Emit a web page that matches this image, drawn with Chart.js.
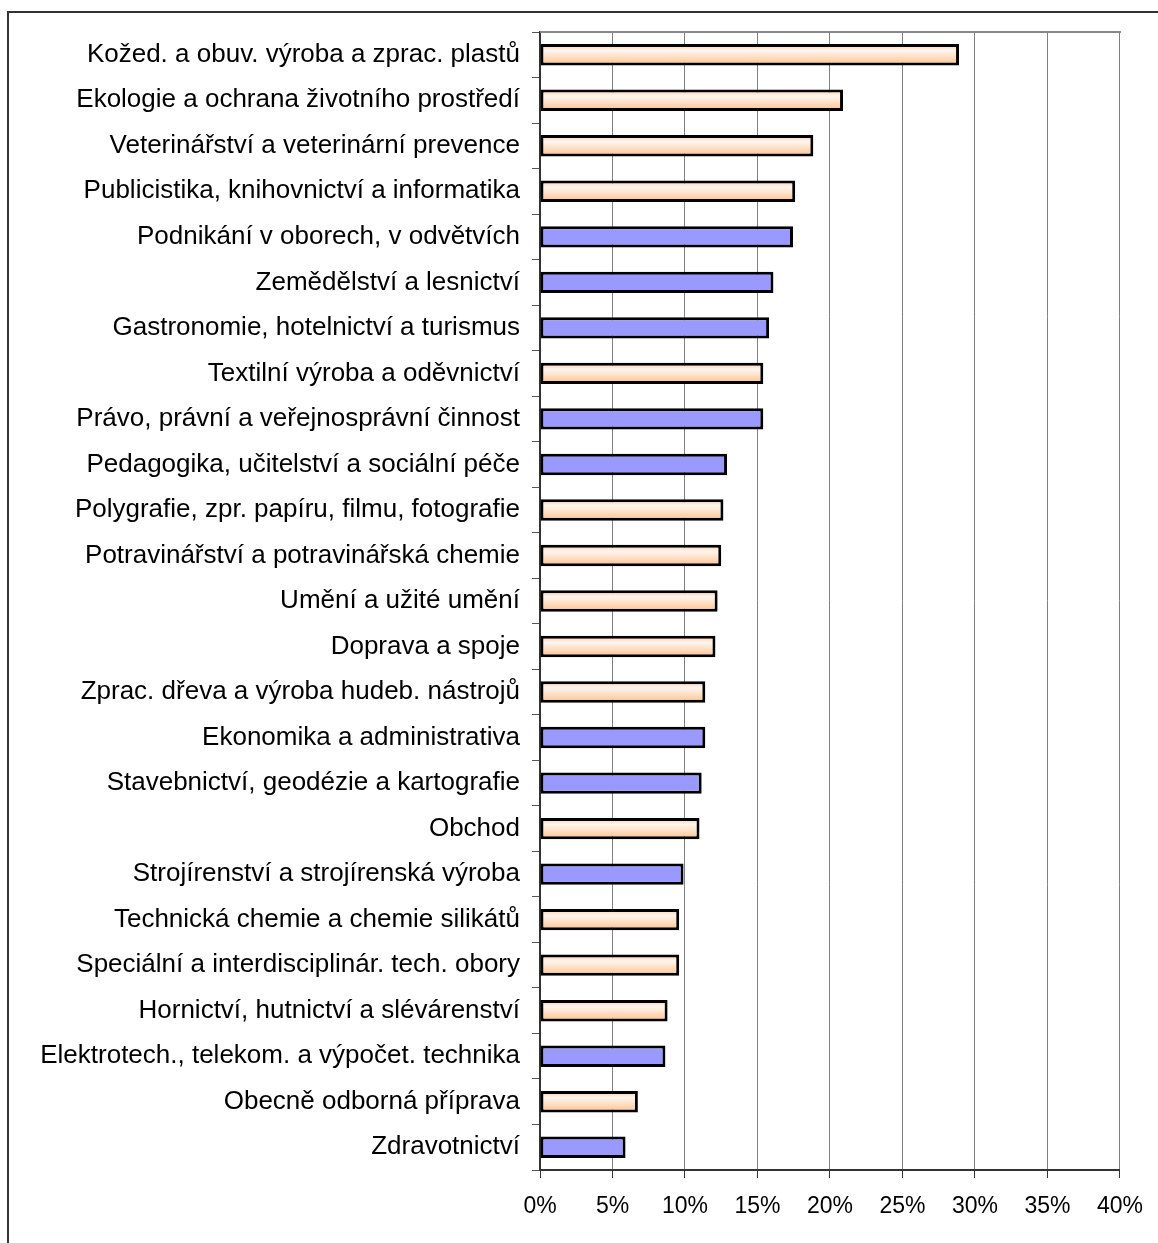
<!DOCTYPE html>
<html>
<head>
<meta charset="utf-8">
<script src="https://cdn.jsdelivr.net/npm/chart.js@4/dist/chart.umd.min.js"></script>
<style>
    body { margin: 0; background: #fff; overflow: hidden; }
    #ramecek { position: absolute; left: 7px; top: 11px; width: 1300px; height: 1400px;
               border-left: 2px solid #333; border-top: 2px solid #333; }
    #graf { position: absolute; left: 0; top: 0; }
</style>
</head>
<body>
<div id="ramecek"></div>
<canvas id="graf" width="1158" height="1243"></canvas>
<script>
// obory vzdělání (shora dolů)
const kategorie = [
    'Kožed. a obuv. výroba a zprac. plastů',
    'Ekologie a ochrana životního prostředí',
    'Veterinářství a veterinární prevence',
    'Publicistika, knihovnictví a informatika',
    'Podnikání v oborech, v odvětvích',
    'Zemědělství a lesnictví',
    'Gastronomie, hotelnictví a turismus',
    'Textilní výroba a oděvnictví',
    'Právo, právní a veřejnosprávní činnost',
    'Pedagogika, učitelství a sociální péče',
    'Polygrafie, zpr. papíru, filmu, fotografie',
    'Potravinářství a potravinářská chemie',
    'Umění a užité umění',
    'Doprava a spoje',
    'Zprac. dřeva a výroba hudeb. nástrojů',
    'Ekonomika a administrativa',
    'Stavebnictví, geodézie a kartografie',
    'Obchod',
    'Strojírenství a strojírenská výroba',
    'Technická chemie a chemie silikátů',
    'Speciální a interdisciplinár. tech. obory',
    'Hornictví, hutnictví a slévárenství',
    'Elektrotech., telekom. a výpočet. technika',
    'Obecně odborná příprava',
    'Zdravotnictví'
];

// hodnoty v %
const hodnoty = [28.9, 20.9, 18.85, 17.6, 17.45, 16.1, 15.8, 15.4, 15.4, 12.9,
                 12.65, 12.5, 12.25, 12.1, 11.4, 11.4, 11.15, 11.0, 9.9, 9.6,
                 9.6, 8.8, 8.65, 6.75, 5.9];

// skupina oboru: 'o' = oranžový (přechod), 'm' = modrý
const skupina = ['o', 'o', 'o', 'o', 'm', 'm', 'm', 'o', 'm', 'm',
                 'o', 'o', 'o', 'o', 'o', 'm', 'm', 'o', 'm', 'o',
                 'o', 'o', 'm', 'o', 'm'];

// popisky osy x
const osaX = [0, 5, 10, 15, 20, 25, 30, 35, 40];

const modra = '#9999FF';
const sirkaSloupce = 0.47;

//barva sloupce - oranžové mají svislý přechod
function barvaSloupce(ctx) {
    if (skupina[ctx.dataIndex] !== 'o') return modra;
    const chart = ctx.chart;
    const osaY = chart.scales.y;
    if (!osaY || !chart.chartArea) return '#FFDDBB';
    const stred = osaY.getPixelForValue(ctx.dataIndex);
    const pul = (chart.chartArea.height / kategorie.length) * sirkaSloupce / 2;
    const g = chart.ctx.createLinearGradient(0, stred - pul, 0, stred + pul);
    g.addColorStop(0, '#FFC99A');
    g.addColorStop(0.3, '#FFF6EF');
    g.addColorStop(1, '#FFC08C');
    return g;
}

//horní okraj plochy grafu
const horniOkraj = {
    id: 'horniOkraj',
    beforeDatasetsDraw(chart) {
        const a = chart.chartArea;
        const c = chart.ctx;
        c.save();
        c.strokeStyle = '#888888';
        c.lineWidth = 2;
        c.beginPath();
        c.moveTo(a.left, a.top);
        c.lineTo(a.right + 1, a.top);
        c.stroke();
        c.restore();
    }
};

new Chart(document.getElementById('graf').getContext('2d'), {
    type: 'bar',
    data: {
        labels: kategorie,
        datasets: [{
            data: hodnoty,
            backgroundColor: barvaSloupce,
            borderColor: '#000000',
            borderWidth: 3,
            borderSkipped: false,
            barPercentage: sirkaSloupce,
            categoryPercentage: 1
        }]
    },
    options: {
        indexAxis: 'y',
        responsive: false,
        animation: false,
        devicePixelRatio: 1,
        layout: { padding: { top: 32, right: 36, left: 0, bottom: 0 } },
        plugins: {
            legend: { display: false },
            tooltip: { enabled: false }
        },
        scales: {
            x: {
                min: 0,
                max: 40,
                afterFit: (s) => { s.height = 73; },
                afterBuildTicks: (s) => { s.ticks = osaX.map(v => ({ value: v })); },
                ticks: {
                    callback: (v) => v + '%',
                    color: '#000',
                    padding: 15,
                    maxRotation: 0,
                    font: { family: 'Liberation Sans, Arial', size: 23 }
                },
                grid: { color: '#808080', lineWidth: 1, tickLength: 8, tickColor: '#333' },
                border: { color: '#333', width: 2 }
            },
            y: {
                afterFit: (s) => { s.width = 540; },
                ticks: {
                    color: '#000',
                    padding: 12,
                    autoSkip: false,
                    font: { family: 'Liberation Sans, Arial', size: 26 }
                },
                grid: { drawOnChartArea: false, drawTicks: true, tickLength: 8, color: '#555' },
                border: { color: '#333', width: 2 }
            }
        }
    },
    plugins: [horniOkraj]
});
</script>
</body>
</html>
